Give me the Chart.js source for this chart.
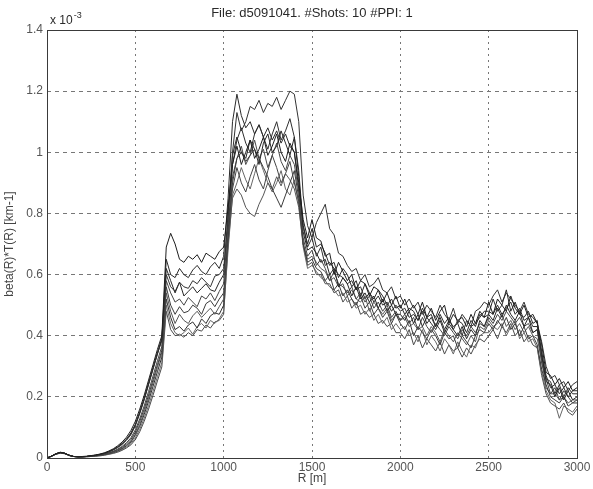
<!DOCTYPE html>
<html lang="en">
<head>
<meta charset="UTF-8">
<title>beta(R)*T(R) profiles</title>
<script src="https://cdn.jsdelivr.net/npm/chart.js"></script>
<style>
  body { margin: 0; background: #fff; }
  #wrap { width: 593px; height: 489px; }
</style>
</head>
<body>
<div id="wrap"><canvas id="profileChart" width="593" height="489"></canvas></div>
<script>
// Range bins in metres (25 m spacing)
const rangeM = [
  0, 25, 50, 75, 100, 125, 150, 175, 200, 225, 250, 275, 300, 325, 350, 375, 400, 425, 450, 475,
  500, 525, 550, 575, 600, 625, 650, 675, 700, 725, 750, 775, 800, 825, 850, 875, 900, 925, 950, 975,
  1000, 1025, 1050, 1075, 1100, 1125, 1150, 1175, 1200, 1225, 1250, 1275, 1300, 1325, 1350, 1375, 1400, 1425, 1450, 1475,
  1500, 1525, 1550, 1575, 1600, 1625, 1650, 1675, 1700, 1725, 1750, 1775, 1800, 1825, 1850, 1875, 1900, 1925, 1950, 1975,
  2000, 2025, 2050, 2075, 2100, 2125, 2150, 2175, 2200, 2225, 2250, 2275, 2300, 2325, 2350, 2375, 2400, 2425, 2450, 2475,
  2500, 2525, 2550, 2575, 2600, 2625, 2650, 2675, 2700, 2725, 2750, 2775, 2800, 2825, 2850, 2875, 2900, 2925, 2950, 2975,
  3000
];

// beta(R)*T(R) per shot, in units of 1e-3 km-1
const shot01 = [
  0, .006, .014, .019, .016, .009, .005, .004, .005, .006, .008, .010, .013, .017, .023, .030, .040, .052, .068, .090,
  .120, .160, .205, .255, .305, .355, .400, .690, .735, .700, .650, .640, .660, .650, .665, .640, .670, .660, .650, .675,
  .690, .820, .960, 1.02, .960, 1.00, 1.04, .980, 1.01, 1.05, .990, 1.02, 1.06, 1.00, .970, 1.03, 1.00, .900, .780, .720,
  .78, .72, .71, .66, .67, .60, .64, .61, .58, .60, .55, .58, .57, .53, .56, .55, .51, .54, .50, .53,
  .49, .52, .48, .50, .47, .51, .46, .49, .45, .48, .50, .44, .47, .45, .46, .43, .47, .44, .48, .46,
  .51, .47, .52, .50, .48, .53, .49, .47, .50, .46, .47, .44, .37, .28, .27, .24, .26, .23, .25, .22,
  .23
];
const shot02 = [
  0, .006, .014, .018, .015, .009, .005, .004, .004, .005, .007, .009, .012, .016, .021, .028, .037, .048, .062, .082,
  .110, .150, .195, .245, .295, .345, .390, .650, .600, .590, .620, .600, .590, .615, .630, .610, .600, .625, .640, .620,
  .660, .850, 1.10, 1.19, 1.12, 1.08, 1.10, 1.06, 1.09, 1.05, 1.08, 1.04, 1.07, 1.03, 1.06, 1.02, 1.00, .880, .760, .700,
  .75, .69, .70, .67, .63, .64, .59, .62, .60, .56, .58, .53, .57, .54, .52, .55, .53, .50, .52, .49,
  .50, .47, .49, .48, .45, .49, .46, .47, .43, .47, .44, .46, .42, .45, .44, .41, .45, .43, .47, .46,
  .47, .52, .48, .50, .55, .48, .51, .47, .46, .48, .44, .45, .33, .27, .23, .24, .21, .23, .20, .22,
  .22
];
const shot03 = [
  0, .006, .013, .018, .015, .009, .005, .004, .004, .005, .007, .009, .011, .015, .020, .026, .034, .044, .058, .076,
  .105, .145, .190, .240, .290, .340, .385, .600, .560, .545, .575, .560, .555, .580, .570, .590, .575, .560, .595, .600,
  .620, .780, 1.00, 1.13, 1.07, 1.10, 1.15, 1.14, 1.17, 1.13, 1.16, 1.15, 1.18, 1.14, 1.17, 1.20, 1.19, 1.10, .860, .760,
  .72, .77, .80, .83, .75, .73, .67, .66, .63, .61, .62, .58, .60, .56, .57, .59, .55, .54, .56, .52,
  .53, .50, .52, .49, .51, .47, .50, .48, .46, .50, .47, .45, .49, .44, .47, .45, .43, .48, .49, .51,
  .50, .53, .55, .51, .54, .52, .50, .48, .51, .47, .46, .44, .38, .30, .26, .27, .24, .25, .22, .24,
  .25
];
const shot04 = [
  0, .006, .014, .018, .016, .009, .005, .004, .004, .005, .007, .009, .012, .015, .020, .027, .035, .046, .060, .079,
  .108, .148, .192, .242, .292, .340, .388, .620, .580, .540, .575, .530, .545, .560, .540, .555, .570, .550, .545, .575,
  .600, .800, .990, 1.05, 1.00, .980, 1.04, 1.01, .960, 1.03, 1.06, 1.00, 1.02, 1.07, 1.03, .990, 1.05, .920, .740, .680,
  .69, .67, .64, .65, .60, .62, .56, .59, .57, .53, .56, .52, .54, .51, .53, .49, .52, .48, .50, .47,
  .47, .45, .48, .44, .47, .43, .46, .44, .42, .45, .41, .44, .42, .40, .43, .39, .42, .40, .45, .43,
  .47, .45, .49, .46, .50, .47, .45, .48, .43, .46, .41, .42, .34, .25, .24, .20, .23, .19, .22, .19,
  .20
];
const shot05 = [
  0, .006, .014, .018, .015, .009, .005, .004, .004, .005, .006, .008, .010, .013, .017, .022, .029, .038, .050, .066,
  .092, .128, .170, .218, .268, .318, .365, .580, .540, .510, .520, .500, .525, .510, .495, .530, .520, .540, .515, .545,
  .570, .760, .880, .950, .900, .870, .920, .960, .910, .880, .940, .990, .950, .900, .930, .970, .900, .840, .720, .660,
  .68, .63, .65, .62, .58, .61, .57, .56, .54, .56, .52, .54, .51, .53, .49, .51, .48, .50, .46, .48,
  .45, .47, .44, .46, .42, .46, .43, .41, .44, .42, .40, .43, .41, .39, .42, .40, .43, .41, .44, .43,
  .46, .44, .47, .45, .48, .46, .44, .46, .43, .44, .41, .42, .31, .26, .21, .23, .19, .22, .20, .18,
  .19
];
const shot06 = [
  0, .006, .013, .017, .015, .009, .005, .004, .004, .005, .006, .008, .010, .012, .016, .021, .027, .035, .046, .060,
  .085, .120, .160, .206, .256, .305, .352, .560, .500, .470, .495, .475, .480, .500, .490, .470, .505, .515, .495, .520,
  .540, .720, .900, .980, 1.00, .970, .990, 1.01, .980, .950, .920, .880, .850, .820, .860, .900, .940, .850, .700, .640,
  .65, .62, .61, .58, .60, .55, .57, .53, .55, .52, .50, .53, .49, .51, .47, .49, .46, .48, .44, .47,
  .44, .42, .45, .40, .43, .41, .39, .42, .40, .37, .41, .39, .40, .36, .40, .38, .36, .40, .42, .41,
  .44, .42, .45, .43, .46, .42, .44, .40, .43, .39, .40, .37, .29, .24, .20, .19, .18, .20, .17, .18,
  .18
];
const shot07 = [
  0, .006, .013, .017, .015, .009, .005, .004, .004, .005, .006, .007, .009, .012, .015, .019, .025, .032, .042, .055,
  .078, .110, .150, .196, .246, .296, .345, .540, .480, .440, .470, .450, .440, .465, .480, .460, .475, .490, .470, .495,
  .520, .700, .850, .880, .860, .820, .800, .790, .830, .860, .900, .880, .920, .890, .930, .910, .880, .820, .700, .650,
  .66, .64, .62, .61, .58, .59, .56, .57, .53, .55, .52, .51, .53, .48, .51, .49, .47, .49, .45, .47,
  .45, .46, .43, .44, .42, .43, .40, .43, .41, .38, .42, .40, .38, .41, .39, .37, .40, .38, .43, .42,
  .45, .43, .44, .47, .43, .45, .42, .44, .41, .43, .40, .39, .32, .23, .21, .21, .19, .20, .18, .19,
  .19
];
const shot08 = [
  0, .006, .013, .017, .015, .009, .005, .004, .004, .005, .006, .007, .009, .011, .014, .018, .023, .030, .040, .052,
  .074, .104, .142, .186, .234, .282, .330, .520, .460, .420, .430, .415, .435, .445, .425, .455, .440, .465, .475, .470,
  .500, .740, .960, 1.04, 1.08, 1.03, 1.00, 1.06, 1.09, 1.05, 1.01, 1.06, 1.10, 1.04, 1.07, 1.11, 1.05, .940, .760, .690,
  .72, .66, .69, .63, .64, .62, .60, .59, .57, .58, .55, .56, .52, .54, .51, .53, .50, .51, .48, .50,
  .48, .49, .46, .47, .45, .48, .44, .46, .43, .46, .42, .45, .43, .44, .40, .45, .43, .44, .46, .48,
  .48, .47, .50, .47, .49, .51, .47, .49, .45, .46, .43, .43, .35, .26, .25, .21, .24, .20, .23, .21,
  .21
];
const shot09 = [
  0, .005, .012, .016, .014, .008, .005, .004, .004, .004, .005, .006, .008, .010, .013, .016, .021, .027, .036, .047,
  .066, .094, .130, .172, .218, .266, .312, .500, .440, .410, .400, .410, .425, .405, .430, .440, .425, .450, .440, .455,
  .480, .680, .860, .900, .950, .910, .880, .930, .980, .940, .900, .870, .900, .940, .880, .860, .910, .830, .690, .620,
  .63, .61, .59, .58, .56, .55, .53, .54, .51, .52, .49, .50, .47, .49, .45, .47, .44, .46, .42, .44,
  .42, .43, .40, .41, .38, .42, .37, .40, .38, .35, .39, .37, .34, .38, .35, .33, .37, .36, .40, .41,
  .41, .43, .42, .44, .40, .43, .45, .39, .41, .38, .39, .36, .28, .22, .19, .18, .13, .17, .16, .15,
  .17
];
const shot10 = [
  0, .005, .012, .016, .014, .008, .005, .004, .004, .004, .005, .006, .007, .009, .012, .015, .019, .025, .033, .043,
  .060, .086, .120, .160, .205, .252, .298, .480, .420, .400, .405, .395, .410, .400, .420, .415, .435, .425, .445, .450,
  .470, .700, .920, .980, 1.02, .960, .990, 1.04, .980, 1.01, .950, .990, 1.03, .970, .940, .990, .960, .870, .700, .630,
  .64, .60, .60, .57, .57, .54, .55, .51, .53, .49, .51, .47, .48, .46, .47, .44, .45, .43, .44, .41,
  .41, .39, .42, .37, .40, .36, .39, .37, .35, .38, .34, .37, .35, .36, .33, .36, .34, .37, .39, .38,
  .40, .42, .39, .43, .41, .44, .40, .42, .38, .40, .37, .36, .27, .21, .18, .17, .16, .18, .15, .14,
  .16
];

const shots = [shot01, shot02, shot03, shot04, shot05, shot06, shot07, shot08, shot09, shot10];
const xTicks = [0, 500, 1000, 1500, 2000, 2500, 3000];
const yTicks = [0, 0.2, 0.4, 0.6, 0.8, 1, 1.2, 1.4];
const titleText = 'File: d5091041. #Shots: 10 #PPI: 1';

const lineGrays = ['#1e1e1e', '#2a2a2a', '#333333', '#262626', '#444444', '#3a3a3a', '#555555', '#2e2e2e', '#666666', '#4a4a4a'];
const fontFamily = '"Liberation Sans", Arial, sans-serif';

const datasets = shots.map((s, i) => ({
  label: 'Shot ' + (i + 1),
  data: s.map((v, j) => ({ x: rangeM[j], y: v })),
  borderColor: lineGrays[i],
  borderWidth: 1,
  pointRadius: 0,
  tension: 0,
  fill: false
}));

// frame box, title and exponent label, drawn like the MATLAB axes
const framePlugin = {
  id: 'frame',
  afterDraw(chart) {
    const { ctx, chartArea: a } = chart;
    ctx.save();
    ctx.strokeStyle = '#3a3a3a';
    ctx.lineWidth = 1;
    ctx.strokeRect(a.left + 0.5, a.top + 0.5, a.right - a.left, a.bottom - a.top);

    ctx.fillStyle = '#2a2a2a';
    ctx.font = '13px ' + fontFamily;
    ctx.textAlign = 'center';
    ctx.textBaseline = 'middle';
    ctx.fillText(titleText, (a.left + a.right) / 2, 13);

    ctx.textAlign = 'left';
    ctx.font = '12px ' + fontFamily;
    ctx.fillText('x 10', a.left + 3, a.top - 9);
    const w = ctx.measureText('x 10').width;
    ctx.font = '9px ' + fontFamily;
    ctx.fillText('-3', a.left + 4 + w, a.top - 14);
    ctx.restore();
  }
};

new Chart(document.getElementById('profileChart'), {
  type: 'line',
  data: { datasets },
  options: {
    responsive: false,
    animation: false,
    layout: { padding: { top: 30, right: 16, left: 0, bottom: 0 } },
    plugins: {
      legend: { display: false },
      tooltip: { enabled: false },
      title: { display: false }
    },
    scales: {
      x: {
        type: 'linear',
        min: 0,
        max: 3000,
        afterBuildTicks: axis => { axis.ticks = xTicks.map(v => ({ value: v })); },
        afterFit: axis => { axis.height = 31; },
        ticks: { color: '#555', font: { family: fontFamily, size: 12 }, padding: 2, maxRotation: 0, callback: v => String(v) },
        grid: { color: '#777', lineWidth: 1, drawTicks: false, tickLength: 0 },
        border: { display: false, dash: [2, 4] },
        title: { display: true, text: 'R [m]', color: '#444', font: { family: fontFamily, size: 12 }, padding: { top: 0, bottom: 3 } }
      },
      y: {
        min: 0,
        max: 1.4,
        afterBuildTicks: axis => { axis.ticks = yTicks.map(v => ({ value: v })); },
        afterFit: axis => { axis.width = 47; },
        ticks: { color: '#555', font: { family: fontFamily, size: 12 }, padding: 4, callback: v => String(Number(v.toFixed(1))) },
        grid: { color: '#777', lineWidth: 1, drawTicks: false, tickLength: 0 },
        border: { display: false, dash: [4, 4] },
        title: { display: true, text: 'beta(R)*T(R) [km-1]', color: '#444', font: { family: fontFamily, size: 12 }, padding: { top: 2, bottom: 0 } }
      }
    }
  },
  plugins: [framePlugin]
});
</script>
</body>
</html>
